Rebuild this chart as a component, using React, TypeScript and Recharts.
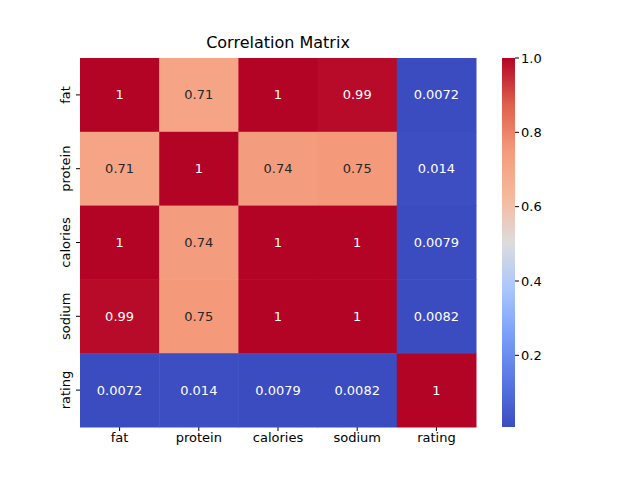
import { Bar, BarChart, Scatter, ScatterChart, XAxis, YAxis } from "recharts";

const labels = ["fat", "protein", "calories", "sodium", "rating"];
const values = [
  [1, 0.71, 1, 0.99, 0.0072],
  [0.71, 1, 0.74, 0.75, 0.014],
  [1, 0.74, 1, 1, 0.0079],
  [0.99, 0.75, 1, 1, 0.0082],
  [0.0072, 0.014, 0.0079, 0.0082, 1],
];
const colorTicks = [0.2, 0.4, 0.6, 0.8, 1.0];
const vMin = 0.0072;
const vMax = 1;

const anchors: [number, number[]][] = [
  [0, [59, 76, 192]],
  [0.125, [89, 119, 227]],
  [0.25, [123, 159, 249]],
  [0.375, [170, 199, 253]],
  [0.5, [221, 220, 220]],
  [0.625, [247, 184, 156]],
  [0.75, [244, 154, 123]],
  [0.875, [222, 96, 77]],
  [1, [180, 4, 38]],
];

function coolwarm(t: number) {
  t = Math.max(0, Math.min(1, t));
  for (let i = 1; i < anchors.length; i++) {
    const [t1, c1] = anchors[i];
    const [t0, c0] = anchors[i - 1];
    if (t <= t1) {
      const f = (t - t0) / (t1 - t0);
      const c = c0.map((v, k) => Math.round(v + (c1[k] - v) * f));
      return `rgb(${c.join(",")})`;
    }
  }
  return "rgb(180,4,38)";
}

const cells = values.flatMap((row, r) =>
  row.map((v, c) => ({ x: c + 0.5, y: r + 0.5, v }))
);

const CW = 396 / 5;
const CH = 369 / 5;
const font = "DejaVu Sans, sans-serif";

const CellShape = (props: any) => {
  const { cx, cy, payload } = props;
  const t = (payload.v - vMin) / (vMax - vMin);
  return (
    <g>
      <rect x={cx - CW / 2} y={cy - CH / 2} width={CW + 0.5} height={CH + 0.5} fill={coolwarm(t)} />
      <text x={cx} y={cy} textAnchor="middle" dominantBaseline="central" fontSize={13} fill={t > 0.45 && t < 0.8 ? "#262626" : "#fff"} fontFamily={font}>
        {String(payload.v)}
      </text>
    </g>
  );
};

const YTick = (props: any) => {
  const { x, y, payload } = props;
  return (
    <text x={x - 4} y={y} transform={`rotate(-90 ${x - 4} ${y})`} textAnchor="middle" fontSize={13} fill="#000" fontFamily={font}>
      {labels[Math.floor(payload.value)]}
    </text>
  );
};

export default function App() {
  return (
    <div style={{ position: "absolute", left: 0, top: 0, width: 640, height: 480, background: "#fff" }}>
      <div style={{ position: "absolute", left: 0, top: 33, width: 556, textAlign: "center", fontFamily: font, fontSize: 16 }}>
        Correlation Matrix
      </div>
      <div style={{ position: "absolute", left: 0, top: 0 }}>
        <ScatterChart width={640} height={480} margin={{ top: 58, right: 164, bottom: 23, left: 50 }}>
          <XAxis type="number" dataKey="x" domain={[0, 5]} ticks={[0.5, 1.5, 2.5, 3.5, 4.5]} tickFormatter={(v) => labels[Math.floor(v)]} axisLine={false} tickLine={{ stroke: "#000" }} tickSize={4} height={30} tick={{ fontSize: 13, fill: "#000", fontFamily: font }} />
          <YAxis type="number" dataKey="y" domain={[0, 5]} reversed ticks={[0.5, 1.5, 2.5, 3.5, 4.5]} axisLine={false} tickLine={{ stroke: "#000" }} tickSize={4} width={30} tick={<YTick />} />
          <Scatter data={cells} shape={<CellShape />} isAnimationActive={false} />
        </ScatterChart>
      </div>
      <div style={{ position: "absolute", left: 502, top: 0 }}>
        <BarChart width={60} height={480} data={[{ r: [vMin, vMax] }]} margin={{ top: 58, right: 0, bottom: 53, left: 0 }} barCategoryGap={0}>
          <defs>
            <linearGradient id="cw" x1="0" y1="1" x2="0" y2="0">
              {anchors.map(([t, c]) => (
                <stop key={t} offset={t} stopColor={`rgb(${c.join(",")})`} />
              ))}
            </linearGradient>
          </defs>
          <XAxis hide />
          <YAxis orientation="right" type="number" domain={[vMin, vMax]} ticks={colorTicks} tickFormatter={(v) => v.toFixed(1)} axisLine={false} tickLine={{ stroke: "#000" }} tickSize={4} width={47} tick={{ fontSize: 13, fill: "#000", fontFamily: font }} />
          <Bar dataKey="r" fill="url(#cw)" isAnimationActive={false} />
        </BarChart>
      </div>
    </div>
  );
}
